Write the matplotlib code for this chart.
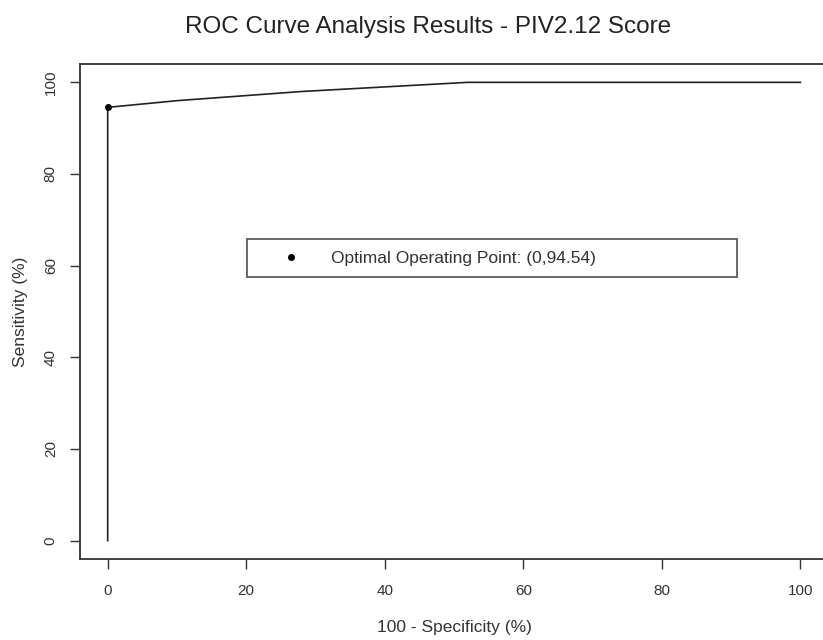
import matplotlib
matplotlib.use("Agg")
import matplotlib.pyplot as plt
from matplotlib.lines import Line2D

plt.rcParams['font.family'] = ['Liberation Sans', 'DejaVu Sans']

# ROC curve (100 - specificity vs sensitivity)
fpr = [0, 0, 10, 28, 40, 52, 100]
tpr = [0, 94.54, 96.0, 98.0, 99.0, 100, 100]

# optimal operating point
opt_x = 0
opt_y = 94.54

fig = plt.figure(figsize=(8.23, 6.4), dpi=100)
ax = fig.add_axes([0.0972, 0.1266, 0.909, 0.7734])

ax.plot(fpr, tpr, color='#222222', lw=1.2)
ax.plot([opt_x], [opt_y], 'o', color='black', ms=4)

ax.set_xlim(-4, 104)
ax.set_ylim(-4, 104)
ax.set_xticks([0, 20, 40, 60, 80, 100])
ax.set_yticks([0, 20, 40, 60, 80, 100])
ax.tick_params(direction='out', length=7, width=1, labelsize=11, colors='#333333', pad=11)
ax.tick_params(axis='y', pad=9)
for lab in ax.get_yticklabels():
    lab.set_rotation(90)
    lab.set_va('center')
for s in ax.spines.values():
    s.set_linewidth(1.3)
    s.set_color('#333333')

ax.set_xlabel('100 - Specificity (%)', fontsize=12.5, color='#333333', labelpad=16)
ax.set_ylabel('Sensitivity (%)', fontsize=12.5, color='#333333', labelpad=11)
fig.text(0.52, 0.958, 'ROC Curve Analysis Results - PIV2.12 Score', fontsize=17.5,
         color='#222222', ha='center', va='center')

handle = Line2D([], [], marker='o', color='black', ls='none', ms=4)
leg = ax.legend([handle], ['Optimal Operating Point: (0,94.54)'],
                loc='lower left', bbox_to_anchor=(0.2233, 0.5697, 0.655, 0.081),
                mode='expand', fontsize=12.5, frameon=True, fancybox=False,
                borderpad=0.65, handlelength=3.75, handletextpad=0.43,
                borderaxespad=0)
leg.get_frame().set_edgecolor('#333333')
leg.get_frame().set_linewidth(1.3)
for t in leg.get_texts():
    t.set_color('#333333')

fig.savefig('out.png', dpi=100)
